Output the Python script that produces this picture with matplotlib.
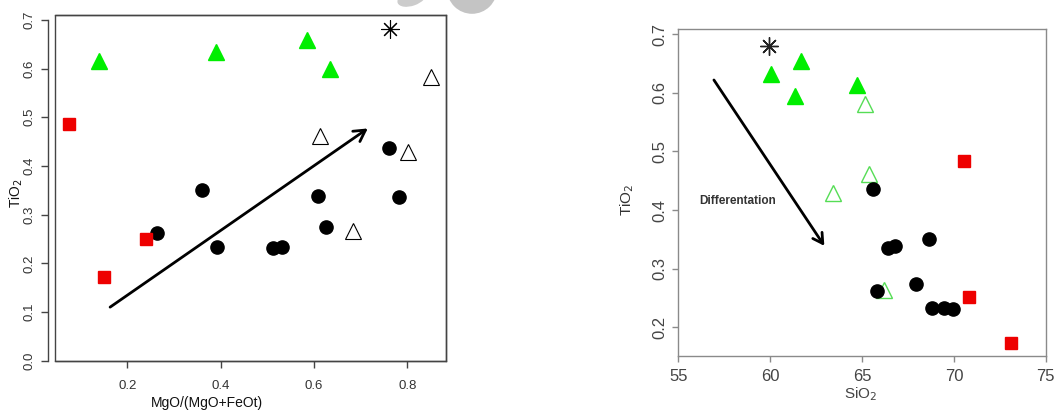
"""
TiO2 vs MgO# and TiO2 vs SiO2 variation diagrams
"""

import numpy as np
import matplotlib
matplotlib.use('Agg')
import matplotlib.pyplot as plt
from matplotlib.patches import Rectangle, Ellipse

plt.rcParams['font.family'] = ['Liberation Sans', 'DejaVu Sans']

# --- left panel: TiO2 vs MgO/(MgO+FeOt)
mg_circ = [0.264, 0.360, 0.391, 0.513, 0.531, 0.609, 0.626, 0.761, 0.781]
ti_circ = [0.262, 0.351, 0.234, 0.231, 0.234, 0.338, 0.274, 0.437, 0.337]
mg_sq = [0.075, 0.240, 0.149]
ti_sq = [0.487, 0.250, 0.172]
mg_gtri = [0.140, 0.389, 0.585, 0.634]
ti_gtri = [0.616, 0.634, 0.658, 0.599]
mg_otri = [0.851, 0.613, 0.801, 0.683]
ti_otri = [0.582, 0.462, 0.429, 0.266]
mg_star = [0.763]
ti_star = [0.681]
mg_arrow = [0.163, 0.715]
ti_arrow = [0.110, 0.477]

# --- right panel: TiO2 vs SiO2
si_circ = [65.60, 66.39, 66.81, 68.66, 65.80, 67.95, 68.82, 69.44, 69.95]
ti2_circ = [0.436, 0.335, 0.338, 0.350, 0.262, 0.274, 0.233, 0.233, 0.232]
si_sq = [70.54, 70.83, 73.10]
ti2_sq = [0.484, 0.251, 0.173]
si_gtri = [60.02, 61.70, 61.38, 64.73]
ti2_gtri = [0.632, 0.655, 0.595, 0.614]
si_otri = [65.14, 65.38, 63.41, 66.18]
ti2_otri = [0.581, 0.462, 0.430, 0.263]
si_star = [59.93]
ti2_star = [0.680]
si_arrow = [56.94, 62.95]
ti2_arrow = [0.622, 0.339]

left_xticks = [0.2, 0.4, 0.6, 0.8]
left_yticks = [0.0, 0.1, 0.2, 0.3, 0.4, 0.5, 0.6, 0.7]
right_xticks = [55, 60, 65, 70, 75]
right_yticks = [0.2, 0.3, 0.4, 0.5, 0.6, 0.7]

GREEN = '#00ee00'
RED = '#ee0000'

fig = plt.figure(figsize=(10.56, 4.12), dpi=100)

# faint grey shapes along the top edge
fig.patches.append(Ellipse((0.447, 1.027), 0.0473, 0.121, transform=fig.transFigure,
                           facecolor='#c4c4c4', edgecolor='none'))
fig.patches.append(Ellipse((0.390, 1.005), 0.024, 0.045, angle=-20, transform=fig.transFigure,
                           facecolor='#cccccc', edgecolor='none'))

# left
ax1 = fig.add_axes([0.0521, 0.1245, 0.3700, 0.8391])
ax1.set_xlim(0.045, 0.882)
ax1.set_ylim(0.0, 0.71)
ax1.plot(mg_circ, ti_circ, 'o', color='black', ms=9.5)
ax1.plot(mg_sq, ti_sq, 's', color=RED, ms=9)
ax1.plot(mg_gtri, ti_gtri, '^', color=GREEN, ms=12)
ax1.plot(mg_otri, ti_otri, '^', mfc='white', mec='black', mew=0.8, ms=12)
ax1.plot(mg_star, ti_star, marker=(8, 2, 0), ls='none', color='black', ms=13, mew=0.8)
ax1.annotate('', xy=(mg_arrow[1], ti_arrow[1]), xytext=(mg_arrow[0], ti_arrow[0]),
             arrowprops=dict(arrowstyle='->,head_length=0.8,head_width=0.45',
                             lw=2, color='black', shrinkA=0, shrinkB=0))

for s in ax1.spines.values():
    s.set_color('#444444')
    s.set_linewidth(1)
ax1.add_patch(Rectangle((0, 0), 1, 1, transform=ax1.transAxes, fill=False,
                        edgecolor='#444444', lw=1, clip_on=False))
ax1.spines['left'].set_position(('outward', 5))
ax1.spines['left'].set_bounds(0.0, 0.7)
ax1.set_xticks(left_xticks)
ax1.set_xticklabels(['%.1f' % v for v in left_xticks])
ax1.set_yticks(left_yticks)
ax1.set_yticklabels(['%.1f' % v for v in left_yticks], rotation=90, va='center')
ax1.tick_params(direction='out', length=5, width=1, color='#444444',
                labelcolor='#333333', labelsize=9.5, pad=4)
ax1.tick_params(axis='x', pad=9)
fig.text(16 / 1056, 1 - 193 / 412, 'TiO$_2$', rotation=90, ha='center', va='center',
         fontsize=10, color='#111111')
fig.text(207 / 1056, 1 - 403 / 412, 'MgO/(MgO+FeOt)', ha='center', va='center',
         fontsize=10, color='#111111')

# right
ax2 = fig.add_axes([0.6423, 0.1359, 0.3480, 0.7937])
ax2.set_xlim(55, 75)
ax2.set_ylim(0.151, 0.709)
ax2.plot(si_otri, ti2_otri, '^', mfc='none', mec='#55dd55', mew=1, ms=11)
ax2.plot(si_circ, ti2_circ, 'o', color='black', ms=9.5)
ax2.plot(si_sq, ti2_sq, 's', color=RED, ms=8)
ax2.plot(si_gtri, ti2_gtri, '^', color=GREEN, ms=11)
ax2.plot(si_star, ti2_star, marker=(8, 2, 0), ls='none', color='#222222', ms=13, mew=1)
ax2.annotate('', xy=(si_arrow[1], ti2_arrow[1]), xytext=(si_arrow[0], ti2_arrow[0]),
             arrowprops=dict(arrowstyle='->,head_length=0.7,head_width=0.4',
                             lw=2, color='black', shrinkA=0, shrinkB=0))
ax2.text(56.12, 0.416, 'Differentation', fontsize=8.5, fontweight='bold',
         color='#333333', va='center', ha='left')

for s in ax2.spines.values():
    s.set_color('#8a8a8a')
    s.set_linewidth(1)
ax2.set_xticks(right_xticks)
ax2.set_yticks(right_yticks)
ax2.set_yticklabels(['%.1f' % v for v in right_yticks], rotation=90, va='center')
ax2.tick_params(direction='out', length=4, width=1, color='#8a8a8a',
                labelcolor='#444444', labelsize=12, pad=4)
ax2.tick_params(axis='x', pad=5)
fig.text(627 / 1056, 1 - 200 / 412, 'TiO$_2$', rotation=90, ha='center', va='center',
         fontsize=11, color='#333333')
fig.text(861 / 1056, 1 - 394 / 412, 'SiO$_2$', ha='center', va='center',
         fontsize=11, color='#444444')

fig.savefig('out.png', dpi=100)
